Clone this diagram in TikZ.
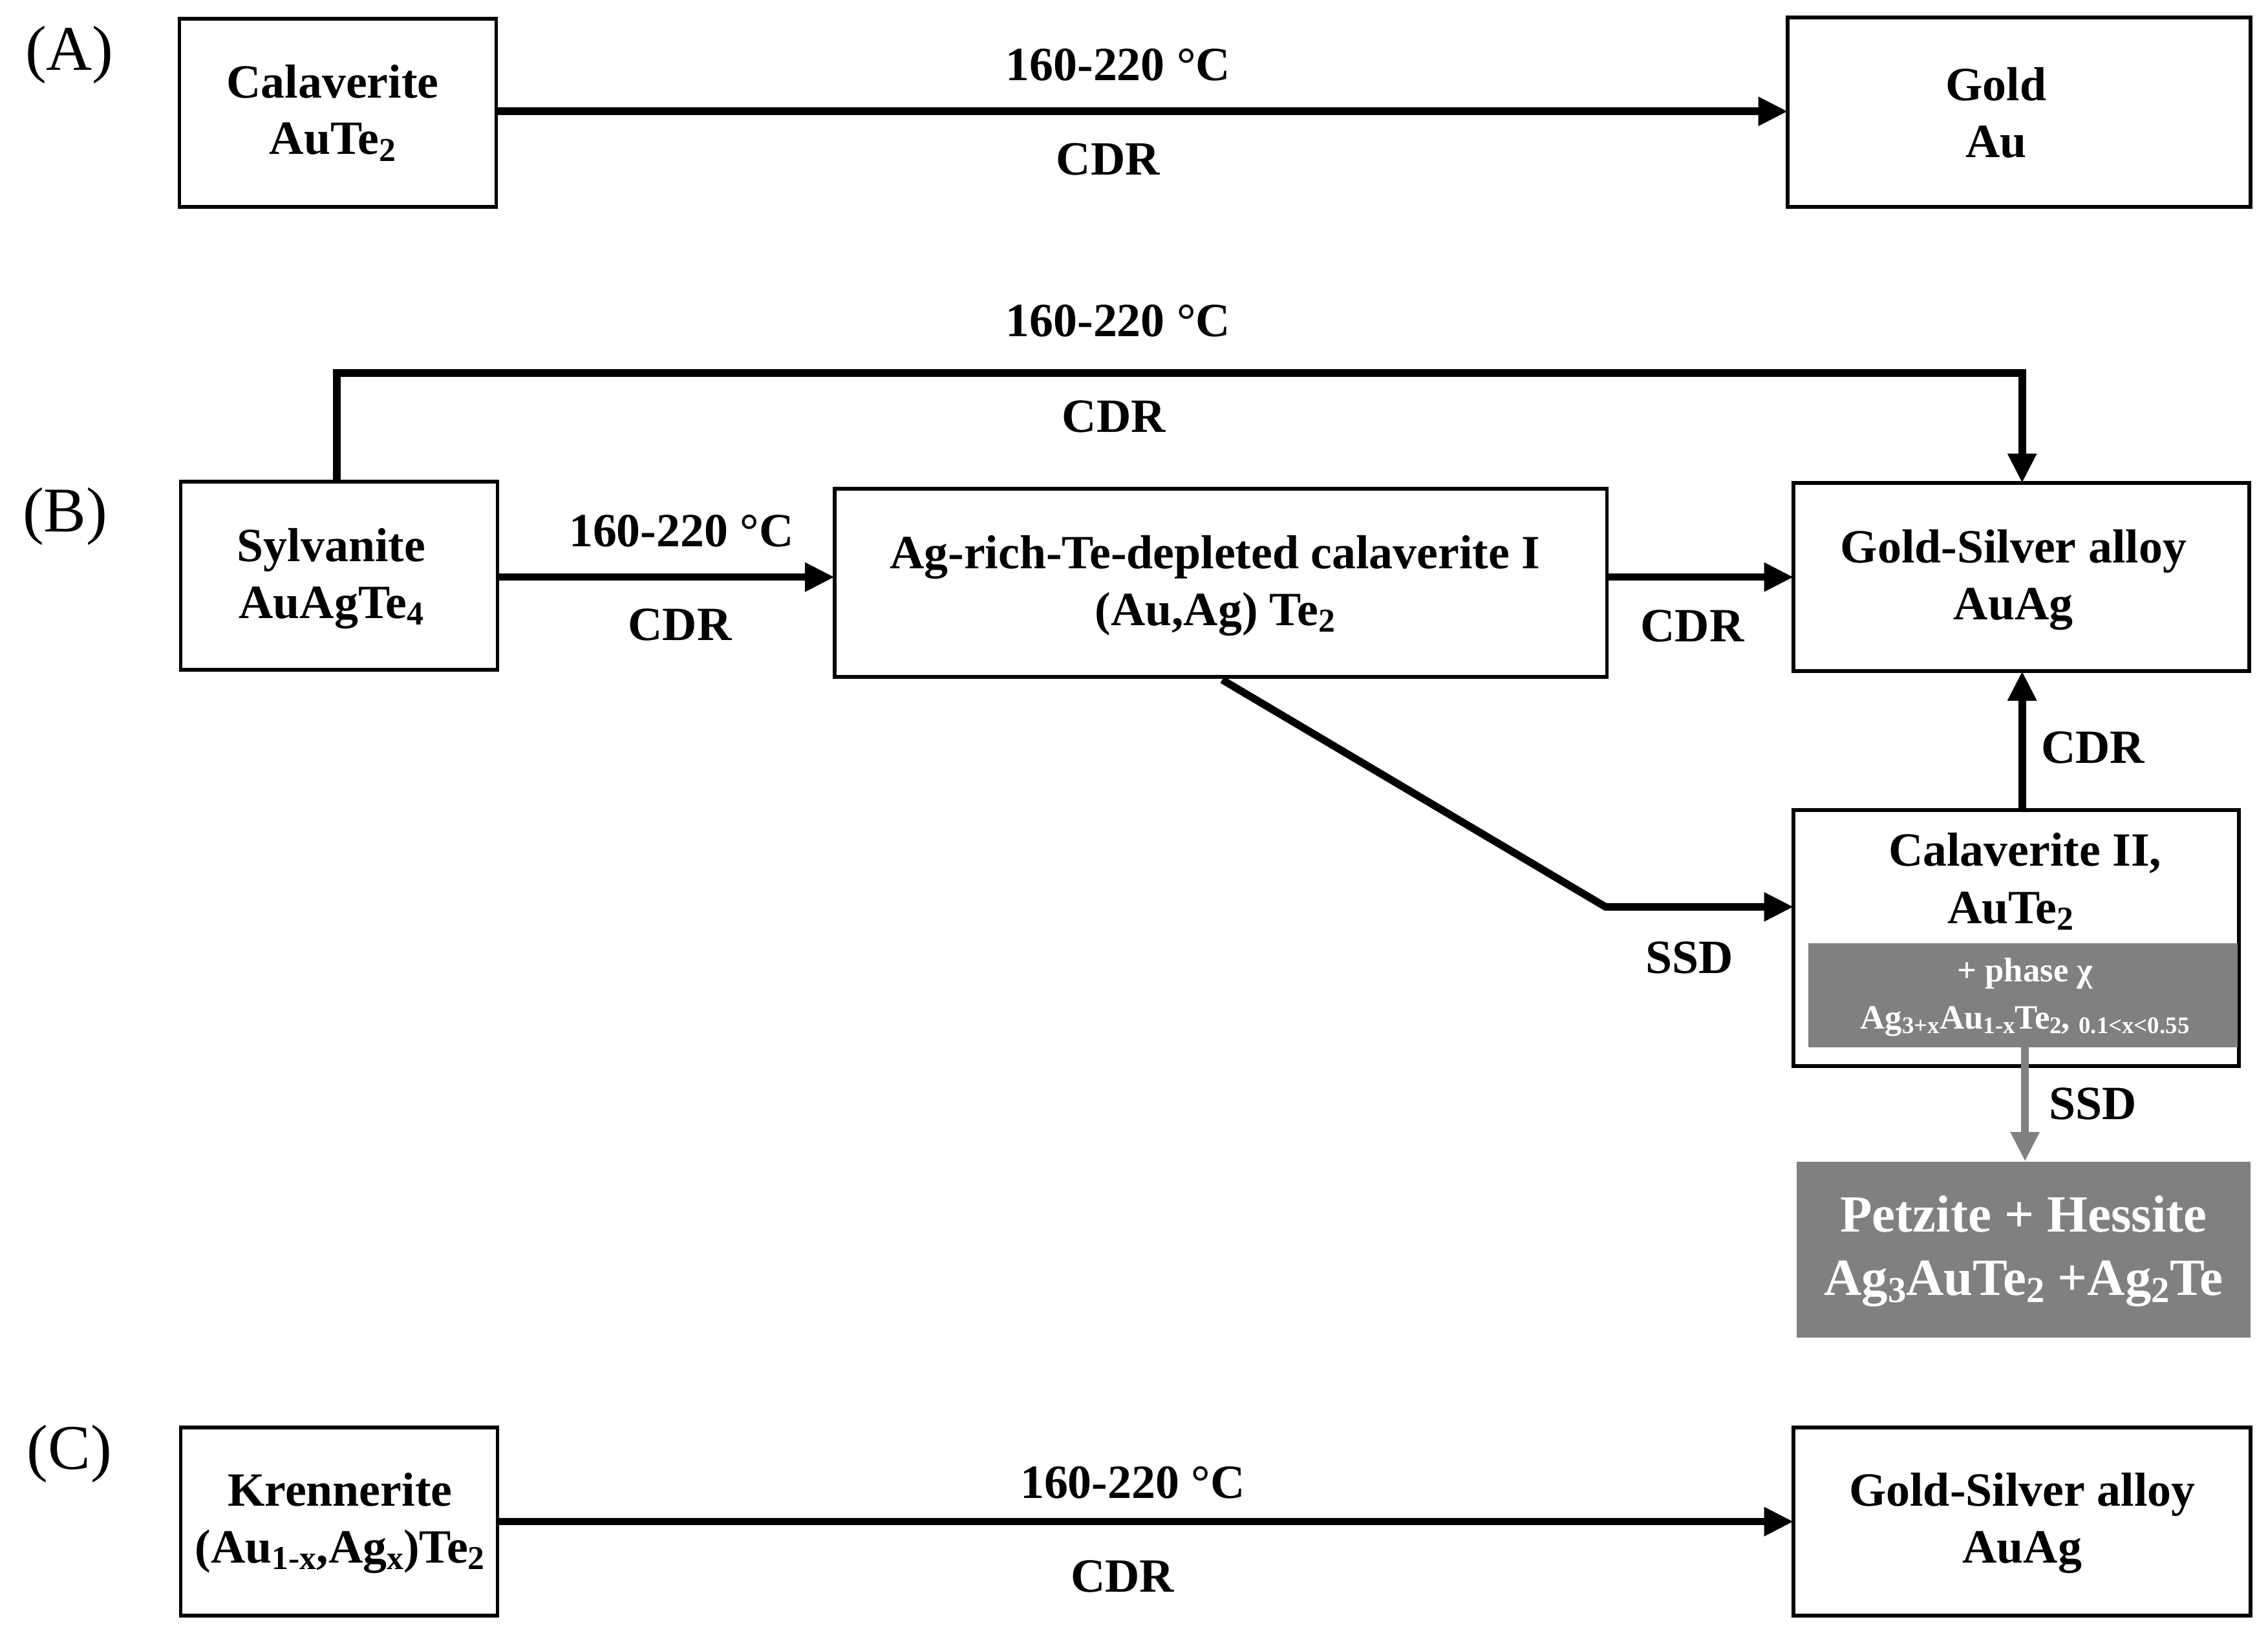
\documentclass[tikz,border=0pt]{standalone}
\usepackage{fontspec}
\setmainfont{Liberation Serif}
\usetikzlibrary{arrows.meta}
\definecolor{gbox}{RGB}{128,128,128}
\newcommand{\sbb}[1]{\raisebox{-0.3ex}{\scalebox{0.7}{#1}}}
\begin{document}
\begin{tikzpicture}[x=0.02237cm,y=-0.02237cm,
 box/.style={draw,line width=1.6pt,inner sep=0pt},
 t/.style={font=\fontsize{21}{25}\selectfont\bfseries,align=center},
 lab/.style={font=\fontsize{28}{32}\selectfont},
 ar/.style={line width=3.3pt,-{Triangle[length=13pt,width=12pt]}},
 ln/.style={line width=3.3pt}]
\useasboundingbox (0,0) rectangle (1568,1130);
% (A)
\node[lab] (la) at (48,38) {(A)};
\draw[box] (124,13) rectangle (343,143); \node[t] (cal) at (230,78) {Calaverite\\AuTe\sbb{2}};
\draw[box] (1236,12) rectangle (1556,143); \node[t] (gold) at (1380,78) {Gold\\Au};
\coordinate (a1) at (343,77); \coordinate (a2) at (1236,77);
\draw[ar] (a1) -- (a2);
\node[t] (ta) at (773,45) {160-220 °C}; \node[t] (ca) at (766,110) {CDR};
% (B)
\node[lab] (lb) at (45,357) {(B)};
\draw[box] (125,333) rectangle (344,463); \node[t] (syl) at (229,400) {Sylvanite\\AuAgTe\sbb{4}};
\draw[box] (577,338) rectangle (1111,468); \node[t] (agr) at (840,405) {Ag-rich-Te-depleted calaverite I\\(Au,Ag) Te\sbb{2}};
\draw[box] (1240,334) rectangle (1555,464); \node[t] (gs) at (1392,401) {Gold-Silver alloy\\AuAg};
\coordinate (p1) at (233,333); \coordinate (p2) at (233,258); \coordinate (p3) at (1398,258); \coordinate (p4) at (1398,334);
\draw[ar] (p1) -- (p2) -- (p3) -- (p4);
\node[t] (tb1) at (773,222) {160-220 °C}; \node[t] (cb1) at (770,288) {CDR};
\coordinate (s1) at (344,399); \coordinate (s2) at (577,399);
\draw[ar] (s1) -- (s2);
\node[t] (tb2) at (471,367) {160-220 °C}; \node[t] (cb2) at (470,432) {CDR};
\coordinate (g1) at (1111,399); \coordinate (g2) at (1240,399);
\draw[ar] (g1) -- (g2);
\node[t] (cb3) at (1170,433) {CDR};
\draw[box] (1240,560) rectangle (1548,737);
\node[t] (c2a) at (1400,590) {Calaverite II,};
\node[t] (c2b) at (1390,630) {AuTe\sbb{2}};
\fill[gbox] (1250,652) rectangle (1547,724);
\node[t,text=white,font=\fontsize{15}{18}\selectfont\bfseries] (ph1) at (1400,673) {+ phase χ};
\node[t,text=white,font=\fontsize{15}{18}\selectfont\bfseries] (ph2) at (1400,706) {Ag\sbb{3+x}Au\sbb{1-x}Te\sbb{2}, \sbb{0.1<x<0.55}};
\coordinate (u1) at (1398,560); \coordinate (u2) at (1398,464);
\draw[ar] (u1) -- (u2);
\node[t] (cb4) at (1447,517) {CDR};
\coordinate (d1) at (845,470); \coordinate (d2) at (1110,627); \coordinate (d3) at (1240,627);
\draw[ar] (d1) -- (d2) -- (d3);
\node[t] (sb1) at (1168,662) {SSD};
\coordinate (v1) at (1400,724); \coordinate (v2) at (1400,803);
\draw[ar,gbox] (v1) -- (v2);
\node[t] (sb2) at (1447,763) {SSD};
\fill[gbox] (1242,803) rectangle (1556,925);
\node[t,text=white,font=\fontsize{23}{28}\selectfont\bfseries] (pet) at (1399,865) {Petzite + Hessite\\Ag\sbb{3}AuTe\sbb{2} +Ag\sbb{2}Te};
% (C)
\node[lab] (lc) at (48,1005) {(C)};
\draw[box] (125,987) rectangle (344,1117); \node[t] (kr) at (235,1053) {Krennerite\\(Au\sbb{1-x},Ag\sbb{x})Te\sbb{2}};
\draw[box] (1240,987) rectangle (1556,1117); \node[t] (gs2) at (1398,1053) {Gold-Silver alloy\\AuAg};
\coordinate (k1) at (344,1052); \coordinate (k2) at (1240,1052);
\draw[ar] (k1) -- (k2);
\node[t] (tc) at (783,1025) {160-220 °C}; \node[t] (cc) at (776,1090) {CDR};
\end{tikzpicture}
\end{document}
